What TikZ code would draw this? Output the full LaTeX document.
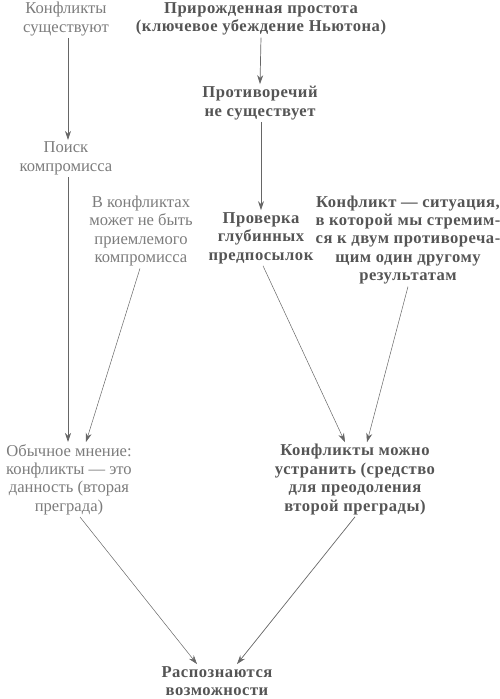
\documentclass[tikz,border=0pt]{standalone}
\usepackage{fontspec}
\setmainfont{Liberation Serif}
\newfontfamily\spacedserif[LetterSpace=3]{Liberation Serif}
\usetikzlibrary{arrows.meta}
\definecolor{lighttxt}{HTML}{7C7C7C}
\definecolor{darktxt}{HTML}{555555}
\definecolor{linecol}{HTML}{666666}
\begin{document}
\begin{tikzpicture}[x=1pt,y=-1pt,
  base/.style={align=center, inner sep=2pt, font=\fontsize{16.6}{18.4}\selectfont},
  plain/.style={base, text=lighttxt},
  strong/.style={base, text=darktxt, font=\fontsize{16.6}{18.4}\selectfont\spacedserif\bfseries},
  arr/.style={draw=linecol, line width=0.7pt, -{Stealth[length=9pt,width=6pt]}},
  thin arr/.style={draw=linecol, line width=0.5pt, -{Stealth[length=9pt,width=6pt]}}]
\useasboundingbox (0,0) rectangle (500,699);
\node[plain]  (n1) at (66,19) {Конфликты\\существуют};
\node[strong] (n2) at (261,19) {Прирожденная простота\\(ключевое убеждение Ньютона)};
\node[strong] (n3) at (260,103) {Противоречий\\не существует};
\node[plain]  (n4) at (66,158.5) {Поиск\\компромисса};
\node[plain]  (n5) at (141,231) {В конфликтах\\может не быть\\приемлемого\\компромисса};
\node[strong] (n6) at (261,238) {Проверка\\глубинных\\предпосылок};
\node[strong] (n7) at (408,240) {Конфликт — ситуация,\\в которой мы стремим-\\ся к двум противореча-\\щим один другому\\результатам};
\node[plain]  (n8) at (69,479.5) {Обычное мнение:\\конфликты — это\\данность (вторая\\преграда)};
\node[strong] (n9) at (355,479.5) {Конфликты можно\\устранить (средство\\для преодоления\\второй преграды)};
\node[strong] (n10) at (217,681) {Распознаются\\возможности};
\draw[arr] ([xshift=2pt]n1.south) -- ([xshift=2pt]n4.north);
\draw[arr] (n2.south) -- (n3.north);
\draw[arr] ([xshift=1pt]n3.south) -- (n6.north);
\draw[arr] ([xshift=2pt]n4.south) -- ([xshift=-1pt]n8.north);
\draw[thin arr] ([xshift=-1pt]n5.south) -- ([xshift=17pt]n8.north);
\draw[thin arr] ([xshift=2pt]n6.south) -- ([xshift=-10pt]n9.north);
\draw[thin arr] (n7.south) -- ([xshift=12pt]n9.north);
\draw[thin arr] ([xshift=11pt]n8.south) -- ([xshift=-20pt]n10.north);
\draw[arr] (n9.south) -- ([xshift=20pt]n10.north);
\end{tikzpicture}
\end{document}
